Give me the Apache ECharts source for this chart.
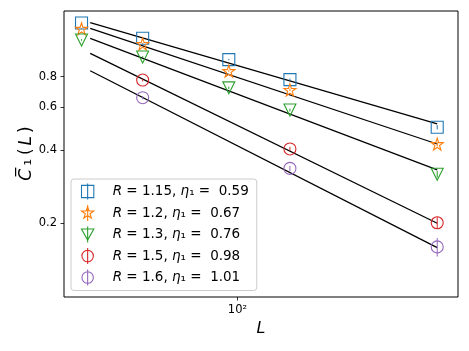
<!DOCTYPE html>
<html>
<head>
<meta charset="utf-8">
<script src="https://cdn.jsdelivr.net/npm/echarts@6/dist/echarts.min.js"></script>
<style>
  html, body { margin: 0; padding: 0; background: #fff; }
  #main { width: 469px; height: 351px; }
</style>
</head>
<body>
<div id="main"></div>
<script>
// system sizes
var L = [48, 64, 96, 128, 256];
var Lsub = [64, 128, 256];
var fitL = [50, 256];

// mean C1 values
var c115 = [1.329, 1.150, 0.940, 0.778, 0.496];
var c12 = [1.259, 1.090, 0.844, 0.706, 0.423];
var c13 = [1.132, 0.964, 0.720, 0.584, 0.318];
var c15 = [0.775, 0.404, 0.201];
var c16 = [0.656, 0.336, 0.160];

// error bars
var e115 = [0.008, 0.008, 0.006, 0.008, 0.010];
var e12 = [0.008, 0.008, 0.006, 0.008, 0.008];
var e13 = [0.008, 0.008, 0.008, 0.008, 0.010];
var e15 = [0.010, 0.008, 0.011];
var e16 = [0.010, 0.008, 0.014];

// power law fits (end points)
var f115 = [1.333, 0.5115];
var f12 = [1.264, 0.4233];
var f13 = [1.150, 0.3311];
var f15 = [0.998, 0.200];
var f16 = [0.8466, 0.1588];

var Rvals = ['1.15', '1.2', '1.3', '1.5', '1.6'];
var etas = ['0.59', '0.67', '0.76', '0.98', '1.01'];

var xTicks = [100];
var yTicks = [0.2, 0.4, 0.6, 0.8];

var colors = ['#1f77b4', '#ff7f0e', '#2ca02c', '#d62728', '#9467bd'];
var FONT = 'DejaVu Sans';

var starPath = 'path://M0,-100 L22.45,-30.9 L95.1,-30.9 L36.3,11.8 L58.8,80.9 L0,38.2 L-58.8,80.9 L-36.3,11.8 L-95.1,-30.9 L-22.45,-30.9 Z';
var symbols = ['rect', starPath, 'triangle', 'circle', 'circle'];
var sizes = [12, 12, 12, 12, 12];
var rotates = [0, 0, 180, 0, 0];

// legend icons: marker with errorbar stroke
var legendIcons = [
  'path://M-10,-10 L10,-10 L10,10 L-10,10 Z M0,-13 L0,13',
  'path://M0,-100 L22.45,-30.9 L95.1,-30.9 L36.3,11.8 L58.8,80.9 L0,38.2 L-58.8,80.9 L-36.3,11.8 L-95.1,-30.9 L-22.45,-30.9 Z M0,-125 L0,125',
  'path://M-10,-9 L10,-9 L0,9 Z M0,-13 L0,13',
  'path://M10,0 A10,10 0 1 1 -10,0 A10,10 0 1 1 10,0 Z M0,-14 L0,14',
  'path://M10,0 A10,10 0 1 1 -10,0 A10,10 0 1 1 10,0 Z M0,-14 L0,14'
];

var groups = [
  {x: L, y: c115, e: e115, f: f115},
  {x: L, y: c12, e: e12, f: f12},
  {x: L, y: c13, e: e13, f: f13},
  {x: Lsub, y: c15, e: e15, f: f15},
  {x: Lsub, y: c16, e: e16, f: f16}
];

function pairs(xs, ys) {
  var out = [];
  for (var i = 0; i < xs.length; i++) out.push([xs[i], ys[i]]);
  return out;
}

function errRender(color) {
  return function (params, api) {
    var x = api.value(0), y = api.value(1), e = api.value(2);
    var p1 = api.coord([x, y - e]);
    var p2 = api.coord([x, y + e]);
    return {
      type: 'line',
      shape: {x1: p1[0], y1: p1[1], x2: p2[0], y2: p2[1]},
      style: {stroke: color, lineWidth: 1}
    };
  };
}

var names = [];
for (var k = 0; k < Rvals.length; k++) {
  names.push('R = ' + Rvals[k] + ', η₁ =  ' + etas[k]);
}

var series = [];
var legendData = [];
for (var g = 0; g < groups.length; g++) {
  var grp = groups[g];
  // fitted line
  series.push({
    name: 'fit' + g,
    type: 'line',
    data: pairs(fitL, grp.f),
    symbol: 'none',
    silent: true,
    lineStyle: {color: '#000', width: 1.3},
    z: 1
  });
  // error bars
  var ed = [];
  for (var i = 0; i < grp.x.length; i++) ed.push([grp.x[i], grp.y[i], grp.e[i]]);
  series.push({
    name: 'err' + g,
    type: 'custom',
    data: ed,
    encode: {x: 0, y: 1},
    renderItem: errRender(colors[g]),
    silent: true,
    z: 2
  });
  // markers
  series.push({
    name: names[g],
    type: 'scatter',
    data: pairs(grp.x, grp.y),
    symbol: symbols[g],
    symbolSize: sizes[g],
    symbolRotate: rotates[g],
    itemStyle: {color: 'none', borderColor: colors[g], borderWidth: 1.1, opacity: 1},
    emphasis: {disabled: true},
    z: 3
  });
  legendData.push({
    name: names[g],
    icon: legendIcons[g],
    itemStyle: {color: 'none', borderColor: colors[g], borderWidth: 1.1}
  });
}

var chart = echarts.init(document.getElementById('main'));
var option = {
  animation: false,
  backgroundColor: '#fff',
  grid: {
    left: 64, right: 11, top: 11, bottom: 54,
    show: true, borderColor: '#000', borderWidth: 1,
    containLabel: false, outerBoundsMode: 'none'
  },
  legend: {
    orient: 'vertical',
    left: 71, top: 179,
    padding: [2, 8, 2.5, 8],
    itemGap: 0.5,
    itemWidth: 24,
    itemHeight: 16,
    backgroundColor: 'rgba(255,255,255,0.8)',
    borderColor: '#cccccc',
    borderWidth: 1,
    borderRadius: 3,
    selectedMode: false,
    data: legendData,
    formatter: function (name) {
      var idx = names.indexOf(name);
      return '{r|R}{t| = ' + Rvals[idx] + ', }{i|η}{t|₁ =  ' + etas[idx] + '}';
    },
    textStyle: {
      fontFamily: FONT, fontSize: 13.5, color: '#000', lineHeight: 16, height: 16,
      rich: {
        r: {fontFamily: FONT, fontSize: 13.5, fontStyle: 'italic', color: '#000', padding: [0, 0, 0, 8]},
        i: {fontFamily: FONT, fontSize: 13.5, fontStyle: 'italic', color: '#000'},
        t: {fontFamily: FONT, fontSize: 13.5, color: '#000'}
      }
    }
  },
  xAxis: {
    type: 'log',
    logBase: 10,
    min: 44.2,
    max: 282.3,
    name: '{i|L}',
    nameLocation: 'middle',
    nameGap: 24,
    nameMoveOverlap: false,
    nameTextStyle: {rich: {i: {fontFamily: FONT, fontSize: 16, fontStyle: 'italic', color: '#000'}}},
    axisLine: {show: false},
    axisTick: {show: true, inside: false, length: 3.5, customValues: xTicks, lineStyle: {color: '#000', width: 0.8}},
    axisLabel: {
      customValues: xTicks, margin: 7, fontFamily: FONT, fontSize: 11.5, color: '#000',
      formatter: function (v) { return '10²'; }
    },
    splitLine: {show: false},
    minorTick: {show: false}
  },
  yAxis: {
    type: 'log',
    logBase: 10,
    min: 0.0996,
    max: 1.489,
    name: '{i|C\u0305}{s|\u2081}{t|(}{i|L}{t|)}',
    nameLocation: 'middle',
    nameGap: 29,
    nameMoveOverlap: false,
    nameRotate: 90,
    nameTextStyle: {rich: {
      i: {fontFamily: FONT, fontSize: 17, fontStyle: 'italic', color: '#000', padding: [0, 2, 0, 2]},
      s: {fontFamily: FONT, fontSize: 17, color: '#000', padding: [0, 3, 0, 1]},
      t: {fontFamily: FONT, fontSize: 17, color: '#000', padding: [0, 1, 0, 1]}
    }},
    axisLine: {show: false},
    axisTick: {show: true, inside: false, length: 3.5, customValues: yTicks, lineStyle: {color: '#000', width: 0.8}},
    axisLabel: {
      customValues: yTicks, margin: 7, fontFamily: FONT, fontSize: 11.5, color: '#000',
      formatter: function (v) { return String(Math.round(v * 10) / 10); }
    },
    splitLine: {show: false},
    minorTick: {show: false}
  },
  series: series
};
chart.setOption(option);
</script>
</body>
</html>
